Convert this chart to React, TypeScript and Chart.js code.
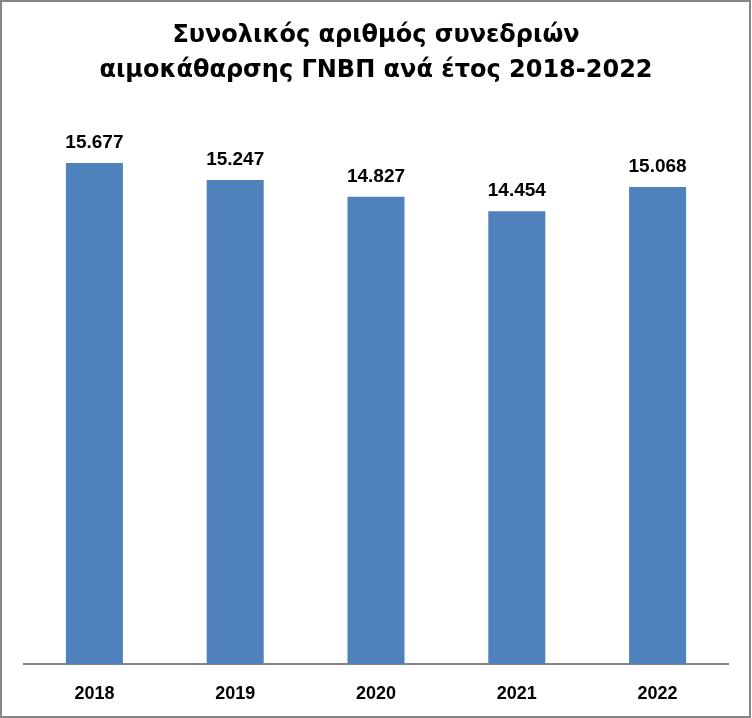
import React, { useEffect, useRef } from "react";
import { Chart, registerables } from "chart.js";

Chart.register(...registerables);

const categories = ["2018", "2019", "2020", "2021", "2022"];
const sessions = [15677, 15247, 14827, 14454, 15068];
const titleLines = ["Συνολικός αριθμός συνεδριών", "αιμοκάθαρσης ΓΝΒΠ ανά έτος 2018-2022"];

const FONT = "DejaVu Sans";
const NUM_FONT = "Liberation Sans";

const formatGreek = (v: number) => String(v).replace(/\B(?=(\d{3})+(?!\d))/g, ".");

const frameAndLabels = {
  id: "frameAndLabels",
  afterDatasetsDraw(chart: any) {
    const ctx = chart.ctx;
    const meta = chart.getDatasetMeta(0);
    ctx.save();
    ctx.fillStyle = "#000000";
    ctx.font = `bold 19px "${NUM_FONT}"`;
    ctx.textAlign = "center";
    ctx.textBaseline = "alphabetic";
    meta.data.forEach((bar: any, i: number) => {
      ctx.fillText(formatGreek(sessions[i]), bar.x, bar.y - 15);
    });
    ctx.restore();
  },
  afterDraw(chart: any) {
    const ctx = chart.ctx;
    ctx.save();
    ctx.strokeStyle = "#868686";
    ctx.lineWidth = 2;
    ctx.strokeRect(1, 1, chart.width - 3, chart.height - 2);
    ctx.restore();
  },
};

export default function App() {
  const ref = useRef<HTMLCanvasElement | null>(null);

  useEffect(() => {
    if (!ref.current) return;
    const chart = new Chart(ref.current, {
      type: "bar",
      data: {
        labels: categories,
        datasets: [
          {
            data: sessions,
            backgroundColor: "#4F81BD",
            borderWidth: 0,
            categoryPercentage: 1,
            barPercentage: 0.405,
          },
        ],
      },
      options: {
        animation: false,
        responsive: false,
        maintainAspectRatio: false,
        layout: { padding: { left: 24, right: 24, top: 0, bottom: 0 } },
        plugins: {
          legend: { display: false },
          tooltip: { enabled: false },
          title: {
            display: true,
            text: titleLines,
            color: "#000000",
            font: { family: FONT, size: 24, weight: "bold", lineHeight: "35.5px" },
            padding: { top: 18, bottom: 2 },
          },
        },
        scales: {
          x: {
            grid: { display: false, drawTicks: false },
            border: { display: true, color: "#868686", width: 2 },
            ticks: {
              color: "#000000",
              font: { family: NUM_FONT, size: 18, weight: "bold" },
              padding: 19,
            },
            afterFit(scale: any) {
              scale.height = 54;
            },
          },
          y: {
            display: false,
            min: 3000,
            max: 17500,
          },
        },
      },
      plugins: [frameAndLabels],
    });
    return () => chart.destroy();
  }, []);

  return (
    <div style={{ position: "absolute", left: 0, top: 0, width: 752, height: 718, background: "#ffffff" }}>
      <canvas ref={ref} width={752} height={718} style={{ width: 752, height: 718, display: "block" }} />
    </div>
  );
}
